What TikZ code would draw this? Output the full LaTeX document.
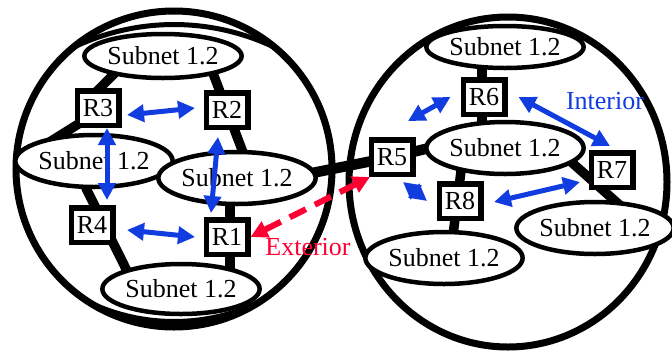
\documentclass[tikz,border=0pt]{standalone}
\usepackage{fontspec}
\setmainfont{Liberation Serif}
\newfontfamily\tmsfont{Liberation Serif}
\usetikzlibrary{shapes.geometric,arrows.meta,calc}
\definecolor{ablue}{RGB}{16,60,224}
\definecolor{ared}{RGB}{255,0,51}
\begin{document}
\begin{tikzpicture}[x=1pt,y=-1pt,
  txt/.style={font=\tmsfont\fontsize{26}{30}\selectfont},
  sub/.style={ellipse, draw, line width=4.5pt, fill=white, inner sep=0pt, txt},
  rtr/.style={rectangle, draw, line width=5.5pt, fill=white, minimum width=41.5pt, minimum height=34.5pt, inner sep=0pt, txt},
  link/.style={line width=9.5pt},
  cloud/.style={line width=7pt},
  inner/.style={line width=5pt},
  biarrow/.style={ablue, line width=5pt, {Triangle[length=17pt,width=17pt]}-{Triangle[length=17pt,width=17pt]}},
  extarrow/.style={ared, line width=6pt, dash pattern=on 18pt off 10pt, {Triangle[length=17pt,width=17pt]}-{Triangle[length=17pt,width=17pt]}}
]
\useasboundingbox (0,0) rectangle (672,354);

% domains
\draw[cloud] (174,169) circle [radius=158];
\draw[inner] (70,49) arc [start angle=243.5, end angle=296.5, radius=233];
\draw[inner] (90,302.8) arc [start angle=115.1, end angle=64.9, radius=198];
\draw[cloud] (508,182) ellipse [x radius=159, y radius=165];

% positions
\coordinate (cL1) at (163,56);
\coordinate (cL2) at (94,161);
\coordinate (cL3) at (237,178);
\coordinate (cL4) at (181,289);
\coordinate (cT) at (505,47);
\coordinate (cM) at (505,148);
\coordinate (cBL) at (444,258);
\coordinate (cBR) at (595,228);
\coordinate (cR1) at (227,237);
\coordinate (cR2) at (227,110);
\coordinate (cR3) at (98,108);
\coordinate (cR4) at (92,225);
\coordinate (cR5) at (392,157);
\coordinate (cR6) at (484,97);
\coordinate (cR7) at (612,170);
\coordinate (cR8) at (460,201);

% links
\draw[link] ($(cL1)+(-43,12)$) -- ($(cR3)+(-10,-8)$);
\draw[link] ($(cR3)+(-10,10)$) -- ($(cL2)+(-46,-18)$);
\draw[link] ($(cL1)+(48,12)$) -- ($(cL3)+(10,-15)$);
\draw[link] ($(cL2)+(-14,15)$) -- ($(cL4)+(-50,-10)$);
\draw[link] ($(cL3)+(-7,10)$) -- ($(cL4)+(49,-5)$);
\draw[line width=10.5pt] ($(cL3)+(60,-2)$) -- (cR5) -- ($(cM)+(-55,-5)$);
\draw[link] ($(cT)+(-23,10)$) -- ($(cM)+(-23,-10)$);
\draw[link] ($(cM)+(55,4)$) -- ($(cBR)+(28,-20)$);
\draw[link] ($(cM)+(-43,15)$) -- ($(cBL)+(8,-15)$);

% subnets
\node[sub, minimum width=146pt, minimum height=44pt] (L1) at (cL1) {Subnet 1.2};
\node[sub, minimum width=142pt, minimum height=52pt] (L2) at (cL2) {Subnet 1.2};
\node[sub, minimum width=146pt, minimum height=52pt] (L3) at (cL3) {Subnet 1.2};
\node[sub, minimum width=148pt, minimum height=50pt] (L4) at (cL4) {Subnet 1.2};
\node[sub, minimum width=146pt, minimum height=42pt] (T) at (cT) {Subnet 1.2};
\node[sub, minimum width=142pt, minimum height=52pt] (M) at (cM) {Subnet 1.2};
\node[sub, minimum width=144pt, minimum height=52pt] (BL) at (cBL) {Subnet 1.2};
\node[sub, minimum width=140pt, minimum height=52pt] (BR) at (cBR) {Subnet 1.2};

% routers
\node[rtr] (R1) at (cR1) {R1};
\node[rtr] (R2) at (cR2) {R2};
\node[rtr] (R3) at (cR3) {R3};
\node[rtr] (R4) at (cR4) {R4};
\node[rtr] (R5) at (cR5) {R5};
\node[rtr] (R6) at (cR6) {R6};
\node[rtr] (R7) at (cR7) {R7};
\node[rtr] (R8) at (cR8) {R8};

% interior arrows
\draw[biarrow] ($(R3.east)+(5.5,7)$) -- ($(R2.west)+(-8.5,-2)$);
\draw[biarrow] ($(R3.south)+(9,0)$) -- ($(R4.north)+(15,-5)$);
\draw[biarrow] ($(R2.south)+(-9,7)$) -- ($(R1.north)+(-16,-4)$);
\draw[biarrow] ($(R4.east)+(11.5,5)$) -- ($(R1.west)+(-8.5,0)$);
\draw[biarrow] ($(R5.north)+(16,-16)$) -- ($(R6.west)+(-10,0)$);
\draw[biarrow] ($(R6.east)+(11,0)$) -- ($(R7.north)+(-2,-4)$);
\draw[biarrow] ($(R5.south)+(11,5)$) -- ($(R8.west)+(-9.5,0)$);
\draw[biarrow] ($(R8.east)+(10.5,1)$) -- ($(R7.west)+(-8.5,12)$);

% exterior arrow
\draw[extarrow] (R1.east) -- ($(R5.south west)+(1.5,0)$);

% labels
\node[txt, text=ablue] (int) at (605,101) {Interior};
\node[txt, text=ared] (ext) at (308,247) {Exterior};
\end{tikzpicture}
\end{document}
